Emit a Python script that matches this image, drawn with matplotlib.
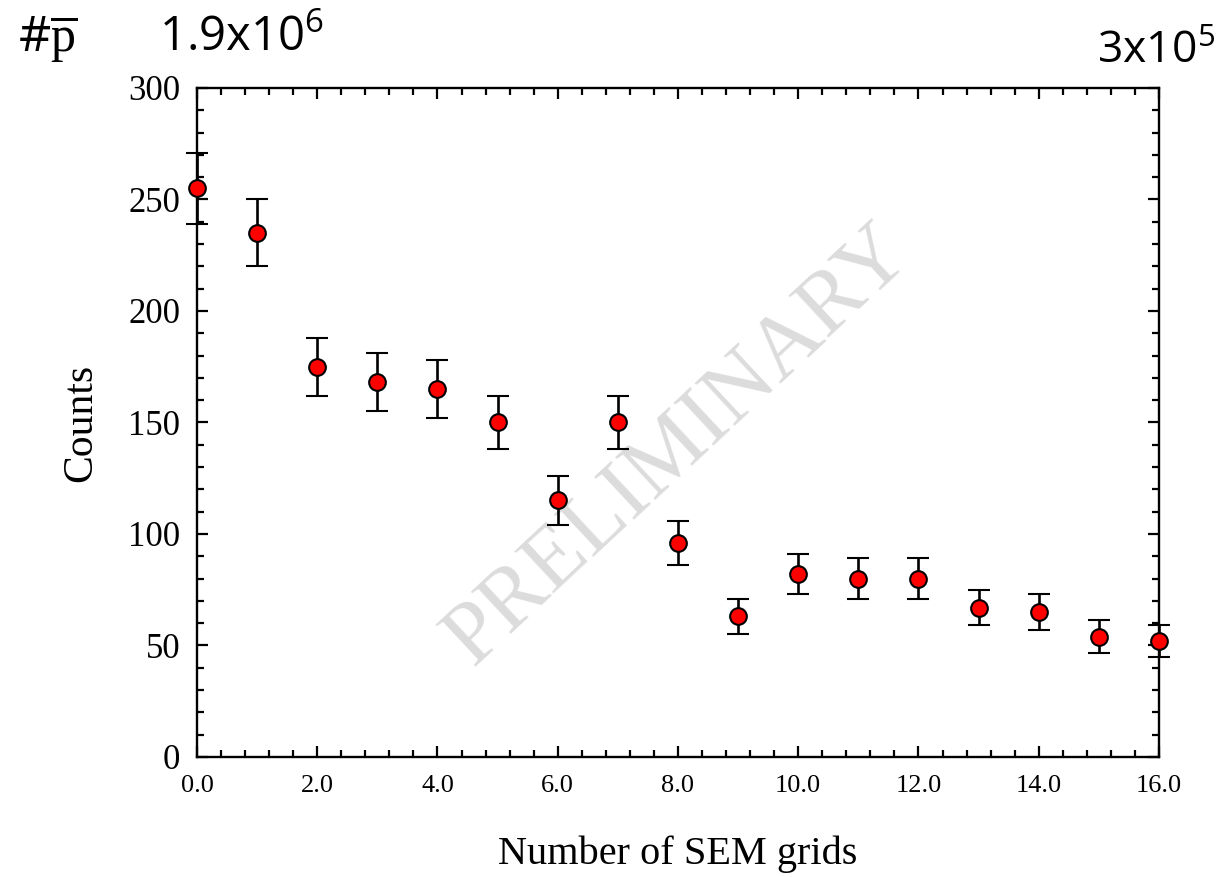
import matplotlib
matplotlib.use("Agg")
import matplotlib.pyplot as plt
from matplotlib.ticker import MultipleLocator, FormatStrFormatter

# data
grids = [0, 1, 2, 3, 4, 5, 6, 7, 8, 9, 10, 11, 12, 13, 14, 15, 16]
counts = [255, 235, 175, 168, 165, 150, 115, 150, 96, 63, 82, 80, 80, 67, 65, 54, 52]
errors = [16, 15, 13, 13, 13, 12, 11, 12, 10, 8, 9, 9, 9, 8, 8, 7.5, 7]

plt.rcParams['mathtext.fontset'] = 'custom'
plt.rcParams['mathtext.rm'] = 'Liberation Serif'
plt.rcParams['mathtext.sf'] = 'Open Sans'

serif = 'Liberation Serif'
sans = 'Open Sans'

fig = plt.figure(figsize=(12.21, 8.77), dpi=100)
ax = fig.add_axes([0.1613, 0.1369, 0.7879, 0.7628])

# watermark behind the points
ax.text(0.50, 0.465, 'PRELIMINARY', transform=ax.transAxes, rotation=43,
        rotation_mode='anchor', ha='center', va='center', fontsize=64,
        family=serif, color='#dcdcdc', zorder=0)

ax.errorbar(grids, counts, yerr=errors, fmt='o', color='black', ecolor='black',
            elinewidth=1.9, capsize=8, capthick=1.9, markersize=12,
            markerfacecolor='red', markeredgecolor='black', markeredgewidth=1.5,
            clip_on=False, zorder=3)

ax.set_xlim(0, 16)
ax.set_ylim(0, 300)
ax.xaxis.set_major_locator(MultipleLocator(2))
ax.xaxis.set_minor_locator(MultipleLocator(0.4))
ax.yaxis.set_major_locator(MultipleLocator(50))
ax.yaxis.set_minor_locator(MultipleLocator(10))
ax.xaxis.set_major_formatter(FormatStrFormatter('%.1f'))

for s in ax.spines.values():
    s.set_linewidth(1.7)

ax.tick_params(which='both', direction='in', top=True, right=True, width=1.6)
ax.tick_params(which='major', length=8)
ax.tick_params(which='minor', length=5)
ax.tick_params(axis='x', which='major', pad=13, labelsize=19)
ax.tick_params(axis='y', which='major', pad=12, labelsize=25)
for lab in ax.get_xticklabels() + ax.get_yticklabels():
    lab.set_family(serif)

ax.set_xlabel('Number of SEM grids', family=serif, fontsize=29, labelpad=28)
ax.set_ylabel('Counts', family=serif, fontsize=30, labelpad=20)

# annotations above the axes
fig.text(0.015, 0.985, r'#$\overline{\mathrm{p}}$', family=sans, fontsize=36,
         ha='left', va='top')
fig.text(0.13, 0.985, r'1.9x10$^{\mathsf{6}}$', family=sans, fontsize=34,
         ha='left', va='top')
fig.text(0.995, 0.965, r'3x10$^{\mathsf{5}}$', family=sans, fontsize=32,
         ha='right', va='top')

fig.savefig('out.png', dpi=100)
